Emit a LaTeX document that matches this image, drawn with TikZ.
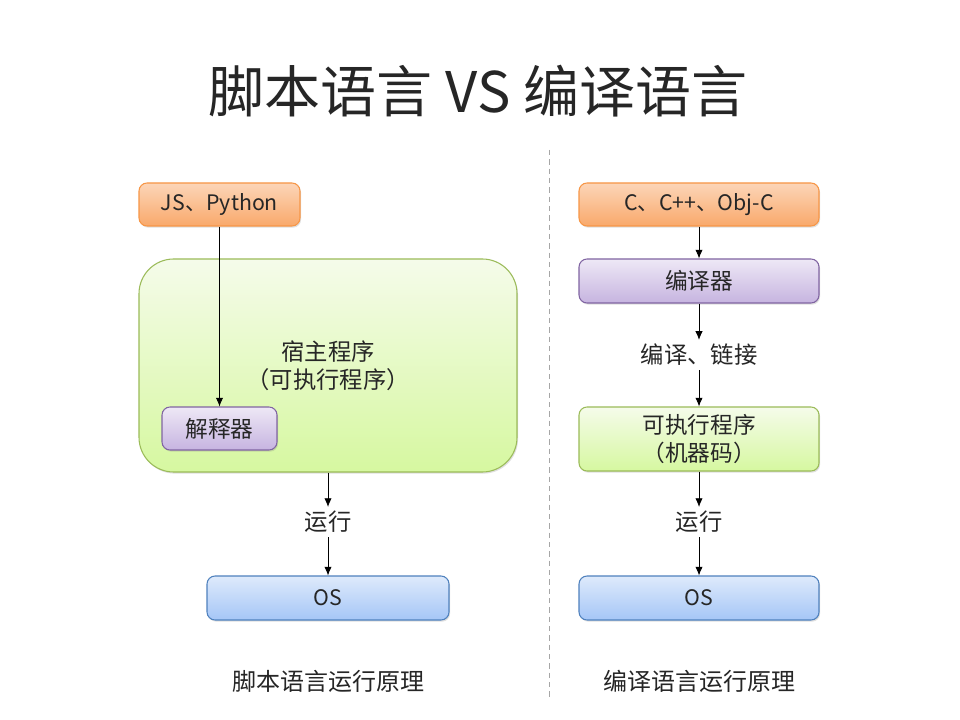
\documentclass[tikz,border=0pt]{standalone}
\usepackage{fontspec}
\setmainfont{Noto Sans CJK SC}
\usetikzlibrary{arrows.meta,shadows}
\definecolor{orB}{HTML}{F79646}\definecolor{orT}{HTML}{FCD5B8}\definecolor{orD}{HTML}{F9A96B}
\definecolor{puB}{HTML}{8064A2}\definecolor{puT}{HTML}{EEE8F6}\definecolor{puD}{HTML}{C6B4E0}
\definecolor{grB}{HTML}{9BBB59}\definecolor{grT}{HTML}{F5FBEA}\definecolor{grD}{HTML}{D6F8A0}
\definecolor{blB}{HTML}{4F81BD}\definecolor{blT}{HTML}{DEEAFB}\definecolor{blD}{HTML}{A5C6F7}
\definecolor{txt}{HTML}{262626}
\tikzset{
  basebox/.style={draw, line width=0.8pt, rounded corners=6pt, inner sep=0pt, align=center,
    text=txt, font=\fontsize{17pt}{21pt}\selectfont,
    drop shadow={opacity=0.25, shadow xshift=0.8pt, shadow yshift=-1.2pt}},
  latinfont/.style={font=\fontsize{16pt}{19pt}\selectfont},
  orbox/.style={basebox, draw=orB, top color=orT, bottom color=orD},
  pubox/.style={basebox, draw=puB, top color=puT, bottom color=puD},
  grbox/.style={basebox, draw=grB, top color=grT, bottom color=grD},
  blbox/.style={basebox, draw=blB, top color=blT, bottom color=blD},
  lbl/.style={text=txt, font=\fontsize{17.5pt}{20pt}\selectfont, inner sep=3pt},
  captxt/.style={text=txt, font=\fontsize{18pt}{21pt}\selectfont},
  arr/.style={-{Latex[length=6.5pt,width=5.5pt]}, line width=0.6pt},
  ln/.style={line width=0.6pt}
}
\begin{document}
\begin{tikzpicture}[x=0.75pt,y=-0.75pt]
\useasboundingbox[fill=white] (0,0) rectangle (960,720);
\node[text=txt] (title) at (478,91) {\fontsize{42pt}{50pt}\selectfont 脚本语言 VS 编译语言};
\coordinate (dtop) at (549,150);
\coordinate (dbot) at (549,700);
\draw[gray!70, line width=0.6pt, dash pattern=on 4pt off 3pt] (dtop) -- (dbot);

% left side
\node[orbox, latinfont, minimum width=161*0.75pt, minimum height=43*0.75pt] (js) at (219.5,204.5) {JS、Python};
\node[grbox, rounded corners=26pt, minimum width=378*0.75pt, minimum height=213*0.75pt] (host) at (328,365.5) {};
\node (hosttxt) at (328,366) [align=center, text=txt, font=\fontsize{17.5pt}{21pt}\selectfont] {宿主程序\\（可执行程序）};
\node[pubox, minimum width=115*0.75pt, minimum height=43*0.75pt] (interp) at (219.5,428.5) {解释器};
\draw[arr] (js.south -| interp.north) -- (interp.north);
\node[lbl] (run1) at (328,522) {运行};
\node[blbox, latinfont, minimum width=242*0.75pt, minimum height=44*0.75pt] (os1) at (328,598) {OS};
\draw[arr] (host.south) -- (run1.north);
\draw[arr] (run1.south) -- (os1.north);
\node[captxt] (cap1) at (328,681) {脚本语言运行原理};

% right side
\node[orbox, latinfont, minimum width=240*0.75pt, minimum height=43*0.75pt] (cc) at (699,204.5) {C、C++、Obj-C};
\node[pubox, minimum width=240*0.75pt, minimum height=44*0.75pt] (comp) at (699,281) {编译器};
\node[lbl] (link) at (699,355) {编译、链接};
\node[grbox, minimum width=240*0.75pt, minimum height=64*0.75pt] (exe) at (699,439) {可执行程序\\（机器码）};
\node[lbl] (run2) at (699,522) {运行};
\node[blbox, latinfont, minimum width=240*0.75pt, minimum height=44*0.75pt] (os2) at (699,598) {OS};
\draw[arr] (cc.south) -- (comp.north);
\draw[arr] (comp.south) -- (link.north);
\draw[arr] (link.south) -- (exe.north);
\draw[arr] (exe.south) -- (run2.north);
\draw[arr] (run2.south) -- (os2.north);
\node[captxt] (cap2) at (699,681) {编译语言运行原理};
\end{tikzpicture}
\end{document}
